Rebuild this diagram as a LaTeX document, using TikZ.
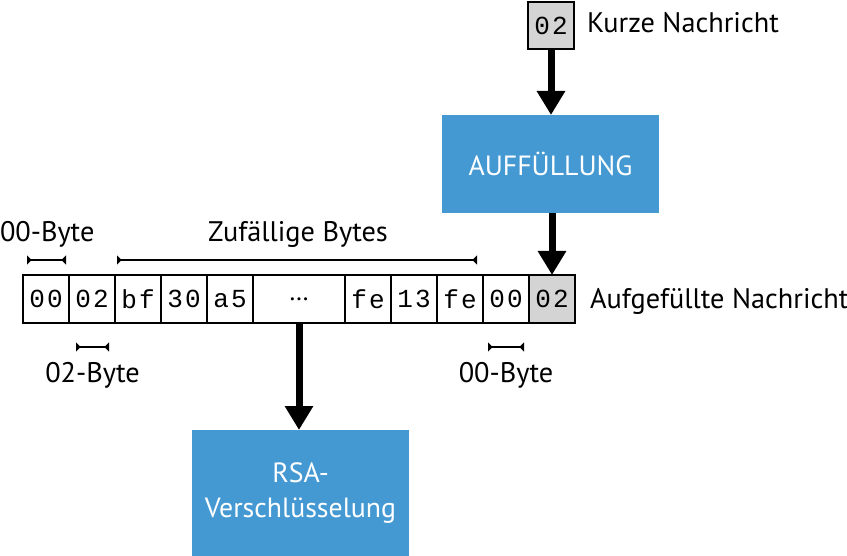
\documentclass[tikz,border=0pt]{standalone}
\usepackage{fontspec}
\setmainfont{PT Sans}
\newfontfamily\monof{Liberation Mono}[LetterSpace=8]
\usetikzlibrary{arrows.meta}
\definecolor{boxblue}{HTML}{4599D3}
\definecolor{cellgray}{HTML}{D4D4D4}
\begin{document}
\begin{tikzpicture}[x=1pt,y=-1pt,
  cell/.style={draw=black,line width=1.4pt,minimum width=46pt,minimum height=48pt,
    inner sep=0pt,outer sep=0pt,anchor=west,font=\fontsize{26}{30}\monof},
  graycell/.style={cell,fill=cellgray},
  procbox/.style={fill=boxblue,text=white,inner sep=0pt,outer sep=0pt,
    minimum width=217pt,align=center,font=\fontsize{27.8}{35}\selectfont},
  lab/.style={inner sep=0pt,outer sep=0pt,font=\fontsize{28.3}{32}\selectfont},
  bigarrow/.style={line width=7pt,-{Triangle[length=24pt,width=27pt]}},
  dimline/.style={line width=1.5pt,{Triangle[reversed,length=4.5pt,width=9pt]}-{Triangle[reversed,length=4.5pt,width=9pt]}}]
\useasboundingbox (0,0) rectangle (847,556);
% top short message
\node[graycell,line width=2pt,minimum height=47pt,anchor=center] (top) at (551,25.5) {02};
\node[lab,anchor=base west] (kurz) at (587,33) {Kurze Nachricht};
% padding box
\node[procbox,minimum height=98pt] (auff) at (550.5,164) {AUFFÜLLUNG};
% row of cells
\node[cell] (c1) at (23,299) {00};
\node[cell] (c2) at (c1.east) {02};
\node[cell] (c3) at (c2.east) {bf};
\node[cell] (c4) at (c3.east) {30};
\node[cell] (c5) at (c4.east) {a5};
\node[cell,minimum width=92pt,font=\fontsize{26}{30}\selectfont] (ell) at (c5.east) {…};
\node[cell] (c7) at (ell.east) {fe};
\node[cell] (c8) at (c7.east) {13};
\node[cell] (c9) at (c8.east) {fe};
\node[cell] (c10) at (c9.east) {00};
\node[graycell] (c11) at (c10.east) {02};
\node[lab,anchor=base west] (aufg) at (590,309) {Aufgefüllte Nachricht};
% labels
\node[lab,anchor=base west] (l00a) at (0,242) {00-Byte};
\node[lab,anchor=base] (lzuf) at (298,242) {Zufällige Bytes};
\node[lab,anchor=base] (l02) at (92.5,383) {02-Byte};
\node[lab,anchor=base] (l00b) at (506,383) {00-Byte};
% dimension markers
\coordinate (a1) at (27,260); \coordinate (a2) at (66,260);
\coordinate (z1) at (117,260); \coordinate (z2) at (477,260);
\coordinate (b1) at (76,347); \coordinate (b2) at (109,347);
\coordinate (d1) at (488,347); \coordinate (d2) at (524,347);
\draw[dimline] (a1) -- (a2);
\draw[dimline] (z1) -- (z2);
\draw[dimline] (b1) -- (b2);
\draw[dimline] (d1) -- (d2);
% RSA box
\node[procbox,minimum height=126pt] (rsa) at (300.5,493) {RSA-\\Verschlüsselung};
% arrows
\draw[bigarrow] (top.south) -- (top.south |- auff.north);
\draw[bigarrow] (c11.north |- auff.south) -- (c11.north);
\draw[bigarrow] (ell.south) -- (ell.south |- rsa.north);
\end{tikzpicture}
\end{document}
